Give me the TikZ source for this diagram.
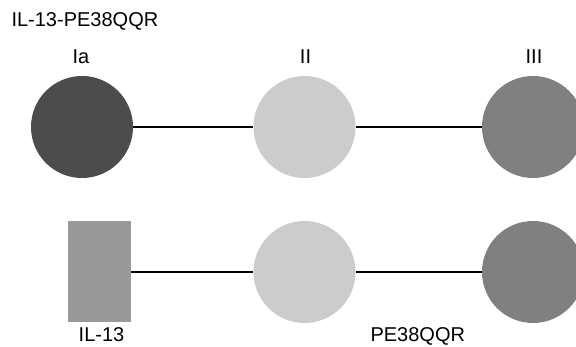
\documentclass[tikz,border=0pt]{standalone}
\usepackage{fontspec}
\setmainfont{Liberation Sans}
\usetikzlibrary{positioning}

\begin{document}
\begin{tikzpicture}[x=1pt,y=-1pt,
    every node/.style = {font=\fontsize{20}{24}\selectfont},
    ball/.style = {circle, minimum size=102pt, inner sep=0pt},
    link/.style   = {line width=1.2pt, black},
    tag/.style    = {anchor=base}]
  \useasboundingbox (0,0) rectangle (576,347);
  \clip (0,0) rectangle (576,347);
  % fusion protein
  \node[tag, anchor=base west] (title) at (8,27) {IL-13-PE38QQR};
  \node[ball, fill=black!70] (ia)  at (82,127)  {};
  \node[ball, fill=black!20] (ii)  at (304.5,127) {};
  \node[ball, fill=black!50] (iii) at (533,127) {};
  \node[tag] (lia)   at (81,64)  {Ia};
  \node[tag] (lii)   at (305.5,64) {II};
  \node[tag] (liii)  at (534,64) {III};
  \draw[link] (ia) -- (ii);
  \draw[link] (ii) -- (iii);
  % IL-13 + PE38QQR
  \node[fill=black!40, minimum width=63pt, minimum height=101pt, inner sep=0pt] (il) at (99.5,272) {};
  \node[ball, fill=black!20] (bii)  at (304.5,272) {};
  \node[ball, fill=black!50] (biii) at (533,272) {};
  \draw[link] (il) -- (bii);
  \draw[link] (bii) -- (biii);
  \node[tag] (lil) at (101.5,342) {IL-13};
  \node[tag, anchor=base west] (lpe) at (367,342) {PE38QQR};
\end{tikzpicture}
\end{document}
